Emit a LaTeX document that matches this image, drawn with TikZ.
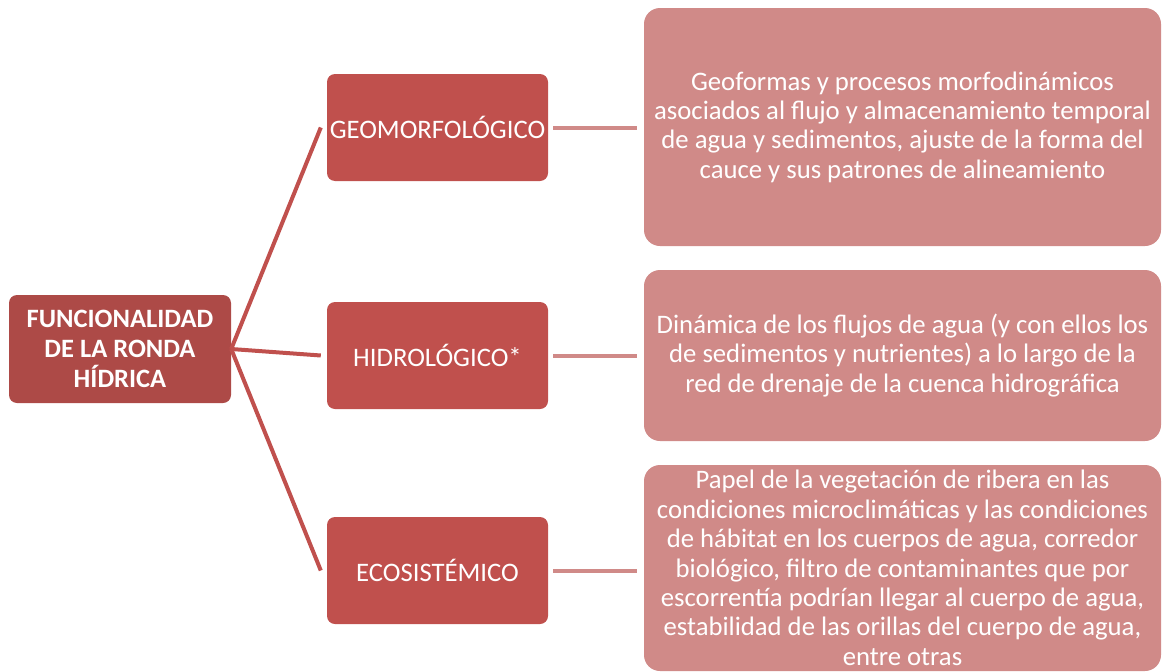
\documentclass[tikz,border=0pt]{standalone}
\usepackage{fontspec}
\setmainfont{Carlito}
\definecolor{rootc}{HTML}{AD4A47}
\definecolor{midc}{HTML}{C0504D}
\definecolor{leafc}{HTML}{D08A88}
\begin{document}
\begin{tikzpicture}[x=1pt,y=-1pt,
  rootbox/.style={fill=rootc, rounded corners=8pt, text=white, align=center,
    minimum width=222pt, minimum height=108pt, inner sep=0pt,
    font=\fontsize{26.5}{30}\selectfont\bfseries},
  midbox/.style={fill=midc, rounded corners=8pt, text=white, align=center,
    minimum width=221pt, minimum height=107pt, inner sep=0pt,
    font=\fontsize{26.7}{29}\selectfont},
  leafbox/.style={fill=leafc, rounded corners=16pt, text=white, align=center,
    minimum width=517pt, inner sep=0pt,
    font=\fontsize{26.7}{29.4}\selectfont},
  rootline/.style={draw=midc, line width=4pt},
  leafline/.style={draw=leafc, line width=4pt}]
\useasboundingbox (0,0) rectangle (1163,672);
\node[rootbox] (root) at (120,349) {FUNCIONALIDAD\\DE LA RONDA\\HÍDRICA};
\node[midbox] (g) at (437.5,127.5) {GEOMORFOLÓGICO};
\node[midbox] (h) at (437.5,355.5) {HIDROLÓGICO*};
\node[midbox] (e) at (437.5,570.5) {ECOSISTÉMICO};
\node[leafbox, minimum height=238pt] (lg) at (902.5,127) {Geoformas y procesos morfodinámicos\\asociados al flujo y almacenamiento temporal\\de agua y sedimentos, ajuste de la forma del\\cauce y sus patrones de alineamiento};
\node[leafbox, minimum height=171pt] (lh) at (902.5,355.5) {Dinámica de los flujos de agua (y con ellos los\\de sedimentos y nutrientes) a lo largo de la\\red de drenaje de la cuenca hidrográfica};
\node[leafbox, minimum height=206pt] (le) at (902.5,568) {Papel de la vegetación de ribera en las\\condiciones microclimáticas y las condiciones\\de hábitat en los cuerpos de agua, corredor\\biológico, filtro de contaminantes que por\\escorrentía podrían llegar al cuerpo de agua,\\estabilidad de las orillas del cuerpo de agua,\\entre otras};
\draw[rootline] (root.east) -- ([xshift=-6pt]g.west);
\draw[rootline] (root.east) -- ([xshift=-6pt]h.west);
\draw[rootline] (root.east) -- ([xshift=-6pt]e.west);
\draw[leafline] ([xshift=5pt]g.east) -- ([xshift=-7pt]lg.west |- g.east);
\draw[leafline] ([xshift=5pt]h.east) -- ([xshift=-7pt]lh.west |- h.east);
\draw[leafline] ([xshift=5pt]e.east) -- ([xshift=-7pt]le.west |- e.east);
\end{tikzpicture}
\end{document}
